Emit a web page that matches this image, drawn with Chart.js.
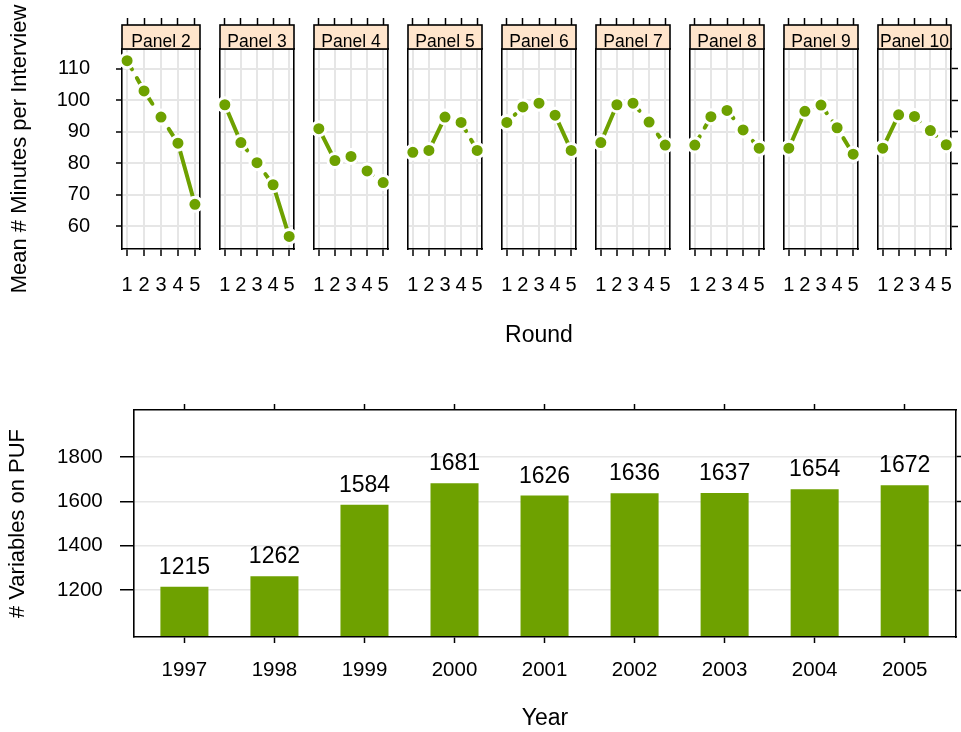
<!DOCTYPE html>
<html>
<head>
<meta charset="utf-8">
<script src="https://cdn.jsdelivr.net/npm/chart.js@4.4.1/dist/chart.umd.min.js"></script>
<style>
  html, body { margin: 0; padding: 0; background: #ffffff; }
  #wrap { position: relative; width: 961px; height: 732px; overflow: hidden; background: #ffffff; }
  #wrap canvas { position: absolute; }
</style>
</head>
<body>
<div id="wrap"></div>
<script>
// ---- data ----
const rounds = [1, 2, 3, 4, 5];
const panelNames = ['Panel 2', 'Panel 3', 'Panel 4', 'Panel 5', 'Panel 6', 'Panel 7', 'Panel 8', 'Panel 9', 'Panel 10'];
const minutesPanel2  = [112.6, 103.0, 94.7, 86.4, 67.0];
const minutesPanel3  = [98.6, 86.6, 80.2, 73.2, 56.8];
const minutesPanel4  = [91.0, 80.9, 82.2, 77.6, 73.9];
const minutesPanel5  = [83.5, 84.1, 94.7, 93.0, 84.1];
const minutesPanel6  = [93.0, 97.9, 99.1, 95.3, 84.1];
const minutesPanel7  = [86.6, 98.6, 99.1, 93.1, 85.8];
const minutesPanel8  = [85.8, 94.8, 96.8, 90.6, 84.8];
const minutesPanel9  = [84.8, 96.5, 98.5, 91.3, 82.9];
const minutesPanel10 = [84.8, 95.4, 94.9, 90.4, 85.9];
const minutesByPanel = [minutesPanel2, minutesPanel3, minutesPanel4, minutesPanel5, minutesPanel6,
                        minutesPanel7, minutesPanel8, minutesPanel9, minutesPanel10];
const minuteTicks = [60, 70, 80, 90, 100, 110];

const years = ['1997', '1998', '1999', '2000', '2001', '2002', '2003', '2004', '2005'];
const variablesOnPUF = [1215, 1262, 1584, 1681, 1626, 1636, 1637, 1654, 1672];
const variableTicks = [1200, 1400, 1600, 1800];

// ---- look ----
const GREEN = '#6ea100';
const GRID = '#e6e6e6';
const FONT = '"Liberation Sans", Arial, Helvetica, sans-serif';
Chart.defaults.font.family = FONT;
Chart.defaults.color = '#000';

const wrap = document.getElementById('wrap');
function makeCanvas(left, top, w, h) {
  const c = document.createElement('canvas');
  c.width = w; c.height = h;
  c.style.left = left + 'px'; c.style.top = top + 'px';
  c.style.width = w + 'px'; c.style.height = h + 'px';
  wrap.appendChild(c);
  return c;
}

// strip with the panel name, sitting on top of the plotting region
const stripPlugin = {
  id: 'strip',
  afterDraw(chart, args, opts) {
    const { ctx, chartArea: { left, right, top } } = chart;
    const h = 24, y0 = top - h;
    ctx.save();
    ctx.fillStyle = '#ffe5cc';
    ctx.fillRect(left, y0, right - left, h);
    ctx.strokeStyle = '#000';
    ctx.lineWidth = 1.6;
    ctx.strokeRect(left, y0, right - left, h);
    ctx.fillStyle = '#000';
    ctx.font = '17.5px ' + FONT;
    ctx.textAlign = 'center';
    ctx.textBaseline = 'alphabetic';
    ctx.fillText(opts.text, (left + right) / 2, y0 + 21.5);
    ctx.restore();
  }
};

// line style follows the size of the change between two rounds
function segmentDash(ctx) {
  const change = Math.abs(ctx.p1.parsed.y - ctx.p0.parsed.y);
  if (change >= 10) return [];
  if (change >= 5) return [10, 10];
  return [1, 10];
}

const tickList = (vals) => (scale) => { scale.ticks = vals.map(v => ({ value: v })); };
// fixed box size, no extra room reserved for overhanging labels
const fixHeight = (h) => (s) => { s.height = h; s.paddingLeft = 0; s.paddingRight = 0; };
const fixWidth = (w) => (s) => { s.width = w; s.paddingTop = 0; s.paddingBottom = 0; };

// ---- top row: one small chart per panel ----
const PANEL_W = 82, PANEL_STEP = 94, FIRST_LEFT = 122, TOP_H = 350;
panelNames.forEach((name, idx) => {
  const isFirst = idx === 0;
  const isLast = idx === panelNames.length - 1;
  const hasTitle = idx === 4;
  const panelLeft = FIRST_LEFT + PANEL_STEP * idx;
  const leftW = isFirst ? 122 : 6;
  const rightW = isLast ? 5 : 6;
  const canvas = makeCanvas(panelLeft - leftW, 0, leftW + PANEL_W + rightW, TOP_H);
  const values = minutesByPanel[idx];

  new Chart(canvas, {
    type: 'line',
    data: {
      datasets: [{
        data: rounds.map((r, i) => ({ x: r, y: values[i] })),
        borderColor: GREEN,
        borderWidth: 4,
        borderCapStyle: 'round',
        pointRadius: 7,
        pointBorderWidth: 3,
        pointBackgroundColor: GREEN,
        pointBorderColor: '#ffffff',
        pointHoverRadius: 7,
        clip: false,
        segment: { borderDash: segmentDash }
      }]
    },
    options: {
      responsive: false,
      animation: false,
      devicePixelRatio: 1,
      layout: { padding: 0 },
      plugins: { legend: { display: false }, tooltip: { enabled: false }, strip: { text: name } },
      scales: {
        x: {
          type: 'linear', position: 'bottom', min: 0.7, max: 5.3, offset: false,
          afterBuildTicks: tickList(rounds),
          ticks: { font: { size: 20 }, padding: 17, autoSkip: false, maxRotation: 0, callback: v => String(v) },
          grid: { offset: false, color: GRID, lineWidth: 2, tickColor: '#000', tickLength: 7, tickWidth: 1.5 },
          border: { color: '#000', width: 1.6 },
          title: { display: hasTitle, text: 'Round', font: { size: 23 }, padding: { top: 0, bottom: 1 } },
          afterFit: fixHeight(TOP_H - 249)
        },
        x2: {
          type: 'linear', position: 'top', min: 0.7, max: 5.3, offset: false,
          afterBuildTicks: tickList(rounds),
          ticks: { display: false },
          grid: { offset: false, drawOnChartArea: false, tickColor: '#000', tickLength: 31, tickWidth: 1.5 },
          border: { color: '#000', width: 1.6 },
          afterFit: fixHeight(49)
        },
        y: {
          type: 'linear', position: 'left', min: 52.8, max: 116.3,
          afterBuildTicks: tickList(minuteTicks),
          ticks: { display: isFirst, font: { size: 20 }, padding: 26, callback: v => String(v) },
          grid: { color: GRID, lineWidth: 2, tickColor: '#000', tickLength: 6, tickWidth: 1.5, drawTicks: isFirst },
          border: { color: '#000', width: 1.6 },
          title: { display: isFirst, text: 'Mean # Minutes per Interview', font: { size: 22 }, padding: { top: 7, bottom: 0 } },
          afterFit: fixWidth(leftW)
        },
        y2: {
          type: 'linear', position: 'right', min: 52.8, max: 116.3,
          afterBuildTicks: tickList(minuteTicks),
          ticks: { display: false },
          grid: { drawOnChartArea: false, drawTicks: isLast, tickColor: '#000', tickLength: 7, tickWidth: 1.5 },
          border: { color: '#000', width: 1.6 },
          afterFit: fixWidth(rightW)
        }
      }
    },
    plugins: [stripPlugin]
  });
});

// ---- bottom: variables on the public use file per year ----
const valueLabels = {
  id: 'valueLabels',
  afterDatasetsDraw(chart) {
    const { ctx } = chart;
    const meta = chart.getDatasetMeta(0);
    ctx.save();
    ctx.fillStyle = '#000';
    ctx.font = '23px ' + FONT;
    ctx.textAlign = 'center';
    ctx.textBaseline = 'alphabetic';
    meta.data.forEach((bar, i) => {
      ctx.fillText(String(variablesOnPUF[i]), bar.x, bar.y - 13);
    });
    ctx.restore();
  }
};

const BOTTOM_TOP = 380, BOTTOM_H = 352;
const yearIdx = years.map((y, i) => i);
new Chart(makeCanvas(0, BOTTOM_TOP, 961, BOTTOM_H), {
  type: 'bar',
  data: {
    datasets: [{
      data: variablesOnPUF.map((v, i) => ({ x: i, y: v })),
      backgroundColor: GREEN,
      borderWidth: 0,
      barPercentage: 1,
      categoryPercentage: 48 / 90
    }]
  },
  options: {
    responsive: false,
    animation: false,
    devicePixelRatio: 1,
    layout: { padding: 0 },
    plugins: { legend: { display: false }, tooltip: { enabled: false } },
    scales: {
      x: {
        type: 'linear', position: 'bottom', min: -0.56, max: 8.57, offset: false,
        afterBuildTicks: tickList(yearIdx),
        ticks: { font: { size: 20.5 }, padding: 15.4, autoSkip: false, maxRotation: 0, callback: v => years[v] },
        grid: { offset: false, drawOnChartArea: false, tickColor: '#000', tickLength: 6, tickWidth: 1.5, z: 1 },
        border: { color: '#000', width: 1.6, z: 1 },
        title: { display: true, text: 'Year', font: { size: 23 }, padding: { top: 0, bottom: 0 } },
        afterFit: fixHeight(95)
      },
      x2: {
        type: 'linear', position: 'top', min: -0.56, max: 8.57, offset: false,
        afterBuildTicks: tickList(yearIdx),
        ticks: { display: false },
        grid: { offset: false, drawOnChartArea: false, tickColor: '#000', tickLength: 6, tickWidth: 1.5 },
        border: { color: '#000', width: 1.6 },
        afterFit: fixHeight(30)
      },
      y: {
        type: 'linear', position: 'left', min: 989, max: 2011, beginAtZero: false,
        afterBuildTicks: tickList(variableTicks),
        ticks: { font: { size: 20.5 }, padding: 17.3, callback: v => String(v) },
        grid: { color: GRID, lineWidth: 1.5, tickColor: '#000', tickLength: 14, tickWidth: 1.5 },
        border: { color: '#000', width: 1.6 },
        title: { display: true, text: '# Variables on PUF', font: { size: 22 }, padding: { top: 5, bottom: 0 } },
        afterFit: fixWidth(134)
      },
      y2: {
        type: 'linear', position: 'right', min: 989, max: 2011, beginAtZero: false,
        afterBuildTicks: tickList(variableTicks),
        ticks: { display: false },
        grid: { drawOnChartArea: false, tickColor: '#000', tickLength: 6, tickWidth: 1.5 },
        border: { color: '#000', width: 1.6 },
        afterFit: fixWidth(5)
      }
    }
  },
  plugins: [valueLabels]
});
</script>
</body>
</html>
